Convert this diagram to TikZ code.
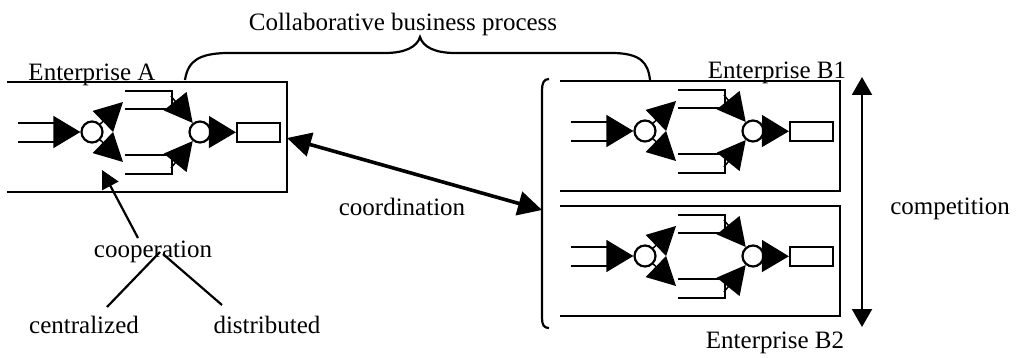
\documentclass[tikz,border=0pt]{standalone}
\usepackage{fontspec}
\setmainfont{Liberation Serif}
\usetikzlibrary{arrows.meta}
\tikzset{
  frame/.style={line width=2.2pt, line join=miter},
  ln/.style={line width=2.2pt},
  junc/.style={circle, draw, line width=2.2pt, fill=white, minimum size=21pt, inner sep=0pt},
  outbox/.style={rectangle, draw, line width=2.2pt, minimum width=43pt, minimum height=19pt, inner sep=0pt},
  flowh/.style={line width=1.5pt, -{Triangle[length=27pt,width=32pt]}},
  flowd/.style={line width=1.5pt, -{Triangle[length=28pt,width=29pt]}},
  lbl/.style={inner sep=0pt, font=\fontsize{25pt}{30pt}\selectfont, anchor=base},
  thin/.style={line width=2.2pt},
}
\newcommand\ProcFlow[2]{%
\begin{scope}[shift={#1}, name prefix=#2-]
  \draw[frame] (-85,-50) -- (195,-50) -- (195,60) -- (-85,60);
  \node[junc] (j1) at (0,0) {};
  \node[junc] (j2) at (108,0) {};
  \node[outbox] (out) at (166.5,0.5) {};
  \draw[ln] (-74,-9) -- (-36,-9) (-74,10) -- (-36,10);
  \draw[ln] (33,-41) -- (80,-41) -- (80,-23) -- (33,-23);
  \draw[ln] (33,23) -- (80,23) -- (80,42) -- (33,42);
  \coordinate (in) at (-38,0);
  \coordinate (ul) at (31,-30);
  \coordinate (ll) at (31,30);
  \coordinate (ur) at (79,-36);
  \coordinate (lr) at (79,36);
  \coordinate (e) at (195,6);
  \draw[flowh] (in) -- (j1);
  \draw[flowd] (j1) -- (ul);
  \draw[flowd] (j1) -- (ll);
  \draw[flowd] (ur) -- (j2);
  \draw[flowd] (lr) -- (j2);
  \draw[flowh] (j2) -- (out);
\end{scope}}
\begin{document}
\begin{tikzpicture}[x=1pt,y=-1pt]
  \useasboundingbox (0,0) rectangle (1019,358);
  \ProcFlow{(92,132)}{A}
  \ProcFlow{(645,131)}{B1}
  \ProcFlow{(645,256)}{B2}
  % labels
  \node[lbl] (title) at (403,31) {Collaborative business process};
  \node[lbl] (la) at (92,81) {Enterprise A};
  \node[lbl] (lb1) at (777,79) {Enterprise B1};
  \node[lbl] (lb2) at (775,348) {Enterprise B2};
  \node[lbl] (coord) at (402,215) {coordination};
  \node[lbl] (comp) at (950,214) {competition};
  \node[lbl] (coop) at (153,257) {cooperation};
  \node[lbl] (cent) at (84,333) {centralized};
  \node[lbl] (dist) at (267,333) {distributed};
  % brace
  \draw[thin] (185,80) .. controls (188,60) and (200,54) .. (225,53) -- (385,53)
     .. controls (405,53) and (417,47) .. (420,37)
     .. controls (423,47) and (435,53) .. (455,53) -- (615,53)
     .. controls (640,54) and (648,62) .. (650,80);
  % bracket
  \draw[thin] (549,79) .. controls (544,79) and (542,83) .. (542,90) -- (542,318)
     .. controls (542,325) and (544,328) .. (549,328);
  \coordinate (bk) at (542,210);
  % coordination arrow
  \draw[line width=3.6pt, {Triangle[length=24pt,width=24pt]}-{Triangle[length=24pt,width=24pt]}] (A-e) -- (bk);
  % competition arrow
  \coordinate (ct) at (862,77);
  \coordinate (cb) at (862,327);
  \draw[line width=2.2pt, {Triangle[length=18pt,width=20pt]}-{Triangle[length=18pt,width=20pt]}] (ct) -- (cb);
  % cooperation
  \coordinate (ca) at (102,170);
  \coordinate (cs) at (138,238);
  \draw[line width=2.2pt, -{Triangle[length=18pt,width=18pt]}] (cs) -- (ca);
  \coordinate (cm1) at (160,252);
  \coordinate (cm2) at (163,254);
  \coordinate (ce) at (107,307);
  \coordinate (de) at (222,305);
  \draw[line width=2.2pt] (cm1) -- (ce);
  \draw[line width=2.2pt] (cm2) -- (de);
\end{tikzpicture}
\end{document}
